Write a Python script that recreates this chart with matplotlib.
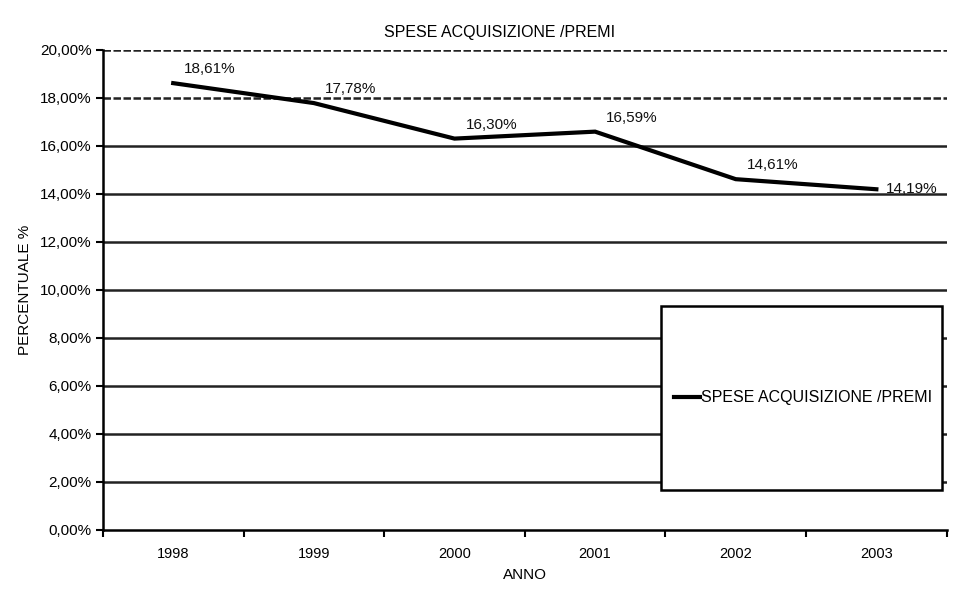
import numpy as np
import matplotlib
matplotlib.use("Agg")
import matplotlib.pyplot as plt
from matplotlib.patches import Rectangle
from matplotlib.ticker import FuncFormatter

plt.rcParams['font.family'] = ['Liberation Sans', 'DejaVu Sans']

# ==== DATA ==================================================

anni = ["1998", "1999", "2000", "2001", "2002", "2003"]
spese_premi = [18.61, 17.78, 16.30, 16.59, 14.61, 14.19]
etichette = ["18,61%", "17,78%", "16,30%", "16,59%", "14,61%", "14,19%"]
y_ticks = [0, 2, 4, 6, 8, 10, 12, 14, 16, 18, 20]

serie = "SPESE ACQUISIZIONE /PREMI"

# ============================================================

fig = plt.figure(figsize=(9.8, 6.07), dpi=100)
ax = fig.add_axes([0.105, 0.127, 0.861, 0.791])

x = np.arange(len(anni))

# horizontal gridlines, drawn as lines so they can run out to the right edge
for v in y_ticks[1:]:
    ls = (0, (3, 1)) if v >= 18 else "-"
    ax.plot([-0.5, 5.5], [v, v], color="#222222", lw=1.8, ls=ls,
            zorder=1, solid_capstyle="butt")

line, = ax.plot(x, spese_premi, color="black", lw=3, zorder=3,
                solid_joinstyle="miter", label=serie)

for i, (xi, yi, txt) in enumerate(zip(x, spese_premi, etichette)):
    off = (7, 0) if i == len(x) - 1 else (8, 10)
    ax.annotate(txt, (xi, yi), xytext=off, textcoords="offset points",
                ha="left", va="center", fontsize=11, color="#111111", zorder=4)

ax.set_xlim(-0.5, 5.5)
ax.set_ylim(0, 20)

ax.set_yticks(y_ticks)
ax.yaxis.set_major_formatter(FuncFormatter(lambda v, p: f"{v:.2f}%".replace(".", ",")))

ax.set_xticks(np.arange(-0.5, 6, 1))
ax.set_xticklabels([])
ax.set_xticks(x, minor=True)
ax.set_xticklabels(anni, minor=True)
ax.tick_params(axis="x", which="minor", length=0, pad=12, labelsize=10.5)
ax.tick_params(axis="x", which="major", length=5, width=1.5, direction="out")
ax.tick_params(axis="y", length=5, width=1.5, labelsize=11, pad=3)

for s in ["top", "right"]:
    ax.spines[s].set_visible(False)
ax.spines["left"].set_linewidth(1.8)
ax.spines["bottom"].set_linewidth(1.8)

ax.set_title(serie, fontsize=11.5, pad=9, x=0.47)
ax.set_xlabel("ANNO", fontsize=11, labelpad=5)
ax.set_ylabel("PERCENTUALE %", fontsize=11, labelpad=6)

# legend box covering the lower right of the grid
box = Rectangle((0.661, 0.083), 0.333, 0.384, transform=ax.transAxes,
                facecolor="white", edgecolor="black", lw=1.8, zorder=5)
ax.add_patch(box)
leg = ax.legend(handles=[line], loc="center left", bbox_to_anchor=(0.677, 0.275),
                frameon=False, fontsize=11.5, handlelength=1.6, handletextpad=0.1,
                borderaxespad=0, borderpad=0)
leg.set_zorder(6)

fig.savefig("out.png", dpi=100, facecolor="white")
